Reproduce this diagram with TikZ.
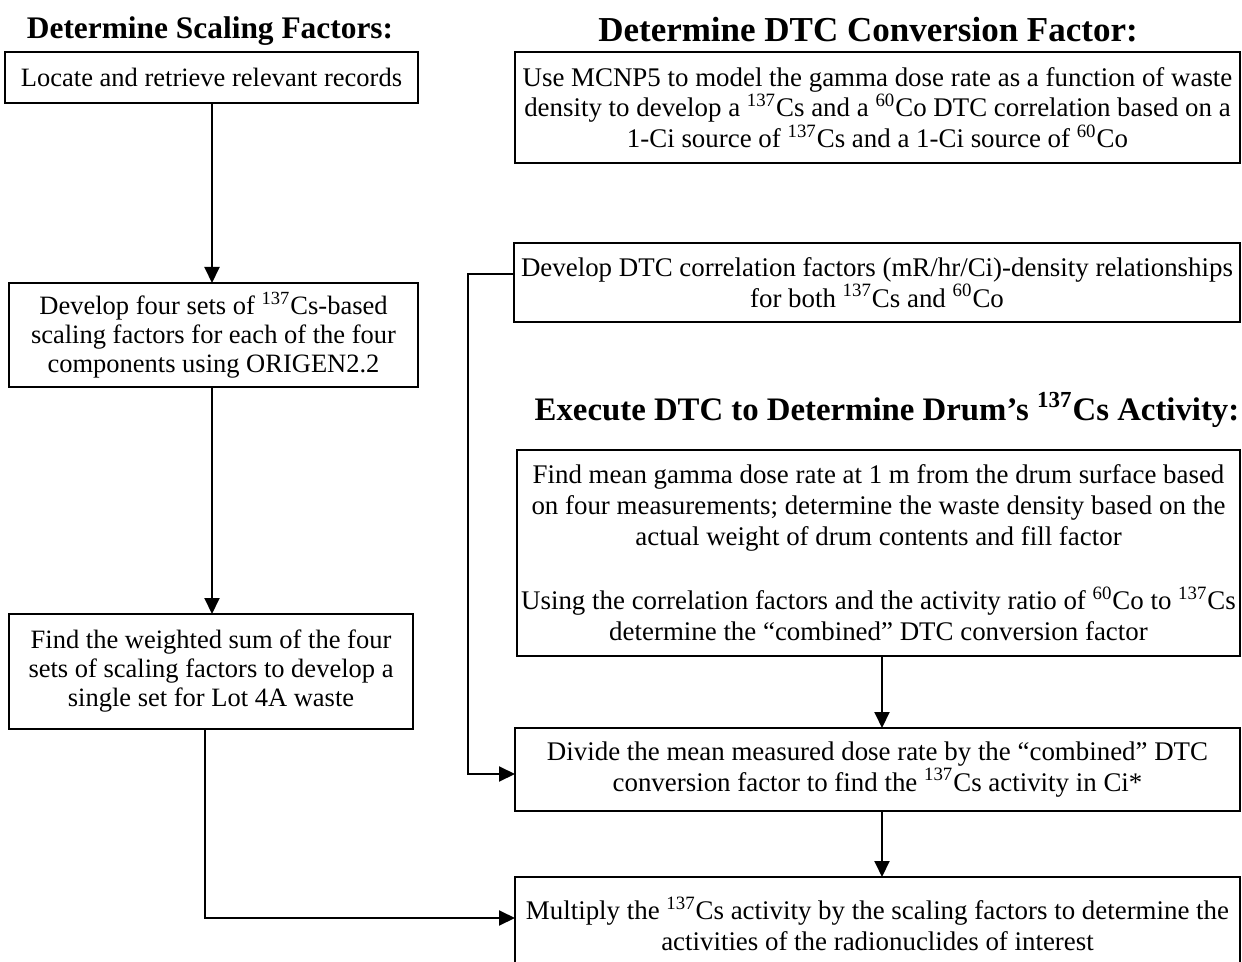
\documentclass[tikz,border=0pt]{standalone}
\usepackage{fontspec}
\setmainfont{Liberation Serif}
\usetikzlibrary{arrows.meta}
\tikzset{
  box/.style={draw, line width=1pt, inner sep=0pt, outer sep=0pt, align=center},
  lbody/.style={font=\fontsize{13.25}{14.5}\selectfont},
  rbody/.style={font=\fontsize{13.45}{15.2}\selectfont},
  ttl/.style={inner sep=0pt, align=center},
  arr/.style={line width=1pt, -{Triangle[width=7.5pt,length=8pt]}}
}
\newcommand{\cs}{\textsuperscript{137}Cs}
\newcommand{\co}{\textsuperscript{60}Co}
\begin{document}
\begin{tikzpicture}[x=0.5pt,y=-0.5pt]
\useasboundingbox (0,0) rectangle (1242,962);
\clip (0,0) rectangle (1242,962);
% titles
\node[ttl, font=\fontsize{15.7}{18}\bfseries\selectfont] (t1) at (210,31) {Determine Scaling Factors:};
\node[ttl, font=\fontsize{17.5}{20}\bfseries\selectfont] (t2) at (868,30) {Determine DTC Conversion Factor:};
\node[ttl, font=\fontsize{16.4}{19}\bfseries\selectfont] (t3) at (887,410) {Execute DTC to Determine Drum’s \cs{} Activity:};
% left column
\node[box, lbody, minimum width=206.5pt, minimum height=25.5pt] (A) at (211.5,77.5) {Locate and retrieve relevant records};
\node[box, lbody, minimum width=204.5pt, minimum height=52pt] (B) at (213.5,335) {Develop four sets of \cs-based\\scaling factors for each of the four\\components using ORIGEN2.2};
\node[box, lbody, minimum width=202pt, minimum height=57.5pt] (C) at (211,671.5) {Find the weighted sum of the four\\sets of scaling factors to develop a\\single set for Lot 4A waste};
% right column
\node[box, rbody, font=\fontsize{13.45}{13.9}\selectfont, minimum width=362.5pt, minimum height=55.5pt] (D) at (877.5,107.5) {Use MCNP5 to model the gamma dose rate as a function of waste\\density to develop a \cs{} and a \co{} DTC correlation based on a\\1-Ci source of \cs{} and a 1-Ci source of \co};
\node[box, rbody, minimum width=363pt, minimum height=39.5pt] (E) at (877,282.5) {Develop DTC correlation factors (mR/hr/Ci)-density relationships\\for both \cs{} and \co};
\node[box, rbody, font=\fontsize{13.45}{15.5}\selectfont, minimum width=361.5pt, minimum height=103pt] (F) at (878.5,553) {Find mean gamma dose rate at 1 m from the drum surface based\\on four measurements; determine the waste density based on the\\actual weight of drum contents and fill factor\\[16.5pt]Using the correlation factors and the activity ratio of \co{} to \cs\\determine the “combined” DTC conversion factor};
\node[box, rbody, minimum width=362.5pt, minimum height=41.5pt] (G) at (877.5,769.5) {Divide the mean measured dose rate by the “combined” DTC\\conversion factor to find the \cs{} activity in Ci*};
\node[box, rbody, minimum width=362.5pt, minimum height=46.5pt] (H) at (877.5,923.5) {Multiply the \cs{} activity by the scaling factors to determine the\\activities of the radionuclides of interest};
% connectors
\coordinate (c1) at (205,918);
\coordinate (e1) at (468,274);
\coordinate (e2) at (468,774);
\draw[arr] (A.south -| 212,0) -- (B.north -| 212,0);
\draw[arr] (B.south -| 212,0) -- (C.north -| 212,0);
\draw[arr] (F.south -| 882,0) -- (G.north -| 882,0);
\draw[arr] (G.south -| 882,0) -- (H.north -| 882,0);
\draw[arr] (C.south -| c1) -- (c1) -- (H.west |- c1);
\draw[arr] (E.west |- e1) -- (e1) -- (e2) -- (G.west |- e2);
\end{tikzpicture}
\end{document}
